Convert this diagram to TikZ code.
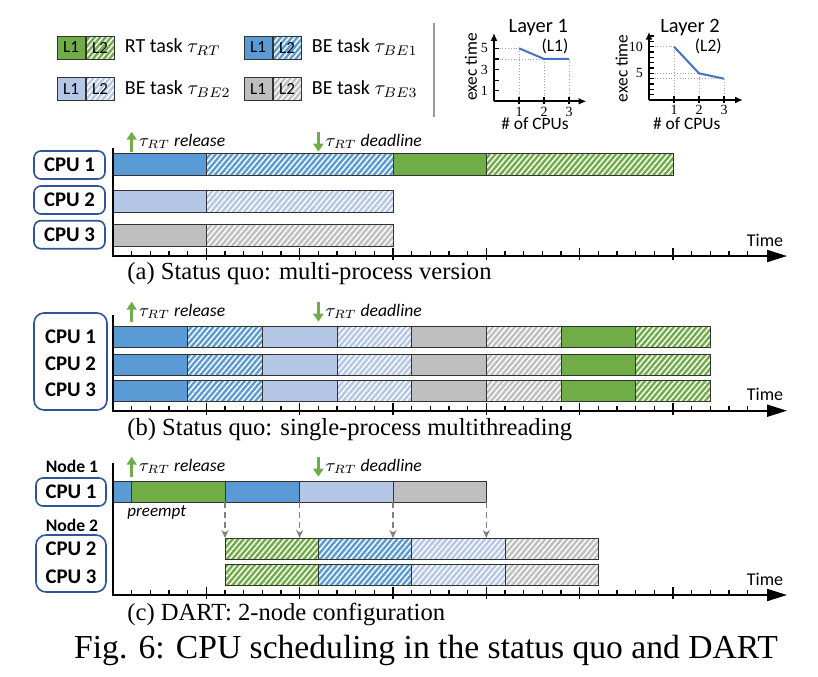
\documentclass[tikz,border=0pt]{standalone}
\usepackage{fontspec}
\setmainfont{Carlito}
\newfontfamily\capfont{Liberation Serif}
\usetikzlibrary{arrows.meta,patterns.meta,positioning}
\definecolor{rtgreen}{HTML}{70AD47}
\definecolor{beblue}{HTML}{5B9BD5}
\definecolor{belight}{HTML}{B4C7E7}
\definecolor{begray}{HTML}{BFBFBF}
\definecolor{boxblue}{HTML}{2F5597}
\definecolor{lineblue}{HTML}{4472C4}
\newcommand{\tzero}{113}
\newcommand{\tunit}{18.667}
\newcommand{\barh}{11}
\newcommand{\runslot}[4]{\path[#4] ({\tzero+\tunit*#2},{#1-\barh}) rectangle ({\tzero+\tunit*#3},{#1+\barh});}
\newcommand{\timeaxis}[3]{%
  \draw[axisline] (\tzero,#2) -- (\tzero,#1) -- (787,#1);
  \foreach \t in {1,...,34} \draw[tmark] ({\tzero+\tunit*\t},#1) -- ++(0,-5);
  \foreach \t in {5,10,...,30} \draw[tmark] ({\tzero+\tunit*\t},{#1-8}) -- ++(0,12);
  \node[timelab] (#3) at (765,{#1-16}) {Time};}
\newcommand{\rtmarks}[2]{%
  \coordinate (#2r0) at ({\tzero+\tunit},{#1+10});
  \coordinate (#2r1) at ({\tzero+\tunit},{#1-10});
  \coordinate (#2d0) at ({\tzero+\tunit*11},{#1-10});
  \coordinate (#2d1) at ({\tzero+\tunit*11},{#1+10});
  \draw[rtarrow] (#2r0) -- (#2r1);
  \draw[rtarrow] (#2d0) -- (#2d1);
  \node[marktext] (#2rel) at ({\tzero+\tunit+7},{#1+5}) {$\tau_{RT}$ \textit{release}};
  \node[marktext] (#2ddl) at ({\tzero+\tunit*11+7},{#1+5}) {$\tau_{RT}$ \textit{deadline}};}
\begin{document}
\begin{tikzpicture}[x=0.5pt, y=-0.5pt,
    run/.style={fill=#1, draw=black!80, line width=0.5pt},
    runh/.style={preaction={fill=#1}, pattern={Lines[angle=50,distance=2.1pt,line width=0.75pt]}, pattern color=white, draw=black!80, line width=0.5pt},
    cpubox/.style={draw=boxblue, line width=0.8pt, rounded corners=3.5pt, minimum width=35.5pt, minimum height=14pt, inner sep=0pt, font=\bfseries\fontsize{10.4}{12}\selectfont},
    cpuframe/.style={draw=boxblue, line width=0.8pt, rounded corners=5pt, inner sep=0pt},
    cpulab/.style={inner sep=0pt, font=\bfseries\fontsize{10.4}{12}\selectfont},
    legbox/.style={minimum width=14pt, minimum height=11.5pt, inner sep=0pt, font=\fontsize{8.5}{10}\selectfont},
    legtext/.style={anchor=west, inner sep=0pt, font=\fontsize{10}{12}\selectfont}]
  \tikzstyle{axisline} = [line width=1pt, -{Triangle[length=10pt,width=6pt]}]
  \tikzstyle{tmark} = [line width=0.6pt]
  \tikzstyle{timelab} = [inner sep=0pt, font=\fontsize{9}{11}\selectfont]
  \tikzstyle{rtarrow} = [rtgreen, line width=1.2pt, -{Triangle[length=4pt,width=5pt]}]
  \tikzstyle{marktext} = [anchor=base west, inner sep=0pt, font=\fontsize{8.8}{10}\selectfont]
  \tikzstyle{migrate} = [gray, dash pattern=on 3pt off 2pt, line width=0.8pt, -{Stealth[length=4pt,width=3.5pt]}]
  \tikzstyle{subcap} = [anchor=west, inner sep=0pt, font=\capfont\fontsize{12.3}{14}\selectfont]
  \tikzstyle{figcap} = [inner sep=0pt, font=\capfont\fontsize{16.8}{19}\selectfont]
  \tikzstyle{guide} = [densely dotted, gray!70, line width=0.4pt]
  \tikzstyle{gaxis} = [line width=0.9pt, -{Latex[length=4pt,width=3.5pt]}]
  \tikzstyle{gcurve} = [lineblue, line width=1pt]
  \tikzstyle{numlab} = [inner sep=1pt, font=\capfont\fontsize{7}{8}\selectfont]
  \tikzstyle{gtitle} = [inner sep=0pt, font=\fontsize{10.2}{12}\selectfont]
  \tikzstyle{gsmall} = [inner sep=0pt, font=\fontsize{8.7}{10}\selectfont]
  \useasboundingbox (0,0) rectangle (818,676);
  \foreach \n/\c/\x/\y/\s in {rt/rtgreen/71/47.5/{RT task $\tau_{RT}$}, be1/beblue/258/47.5/{BE task $\tau_{BE1}$},
      be2/belight/71/89/{BE task $\tau_{BE2}$}, be3/begray/258/89/{BE task $\tau_{BE3}$}} {
    \node[legbox, run=\c] (lg\n a) at (\x,\y) {L1};
    \node[legbox, runh=\c, right=0pt of lg\n a] (lg\n b) {L2};
    \node[legtext, right=5pt of lg\n b] (lg\n) {\s};
  }
  \draw[gray!80, line width=0.75pt] (434,23) -- (434,117);
  \begin{scope}[shift={(494,101.3)}, x=12.5pt, y=5.3pt]
    \draw[guide] (0,5) -| (1,0);
    \draw[guide] (0,4) -| (3,0);
    \draw[guide] (2,4) -- (2,0);
    \foreach \k in {1,...,5} \draw[tmark] (0,\k) -- (0.2,\k);
    \foreach \k in {1,2,3} \draw[tmark] (\k,-0.3) -- (\k,0.4);
    \draw[gaxis] (0,0) -- (3.7,0);
    \draw[gaxis] (0,0) -- (0,6.45);
    \draw[gcurve] (1,5) -- (2,4) -- (3,4);
    \foreach \k in {1,3,5} \node[numlab, anchor=east] (ya\k) at (-0.15,\k) {\k};
    \foreach \k in {1,2,3} \node[numlab, anchor=north] (xa\k) at (\k,-0.3) {\k};
  \end{scope}
  \begin{scope}[shift={(649,100)}, x=12.5pt, y=2.667pt]
    \draw[guide] (0,10) -| (1,0);
    \draw[guide] (0,5) -| (2,0);
    \draw[guide] (0,4) -| (3,0);
    \foreach \k in {1,...,12} \draw[tmark] (0,\k) -- (0.2,\k);
    \foreach \k in {1,2,3} \draw[tmark] (\k,-0.6) -- (\k,0.8);
    \draw[gaxis] (0,0) -- (3.76,0);
    \draw[gaxis] (0,0) -- (0,12.8);
    \draw[gcurve] (1,10) -- (2,5) -- (3,4);
    \foreach \k in {5,10} \node[numlab, anchor=east] (yb\k) at (-0.15,\k) {\k};
    \foreach \k in {1,2,3} \node[numlab, anchor=north] (xb\k) at (\k,-0.6) {\k};
  \end{scope}
  \node[gtitle] (lay1) at (538.3,27.3) {Layer 1};
  \node[gsmall] (tag1) at (555,46.7) {(L1)};
  \node[gsmall, rotate=90] (ylab1) at (471,66.7) {exec time};
  \node[gsmall] (xlab1) at (535,123.3) {\# of CPUs};
  \node[gtitle] (lay2) at (690,27.3) {Layer 2};
  \node[gsmall] (tag2) at (708.3,46.7) {(L2)};
  \node[gsmall, rotate=90] (ylab2) at (621.7,68.3) {exec time};
  \node[gsmall] (xlab2) at (686.7,123.3) {\# of CPUs};
  \node[cpubox] (acpu1) at (69.5,165) {CPU 1};
  \node[cpubox] (acpu2) at (69.5,200) {CPU 2};
  \node[cpubox] (acpu3) at (69.5,234.7) {CPU 3};
  \rtmarks{141.7}{a}
  \runslot{164}{0}{5}{run=beblue}
  \runslot{164}{5}{15}{runh=beblue}
  \runslot{164}{15}{20}{run=rtgreen}
  \runslot{164}{20}{30}{runh=rtgreen}
  \runslot{201}{0}{5}{run=belight}
  \runslot{201}{5}{15}{runh=belight}
  \runslot{235}{0}{5}{run=begray}
  \runslot{235}{5}{15}{runh=begray}
  \timeaxis{256}{148}{timea}
  \node[subcap] (capa) at (127,274) {(a) Status quo: multi-process version};
  \renewcommand{\barh}{10.5}
  \node[cpuframe, minimum width=36.5pt, minimum height=48.5pt] (bframe) at (70.5,361.5) {};
  \node[cpulab] (bcpu1) at (70.5,336.7) {CPU 1};
  \node[cpulab] (bcpu2) at (70.5,363.3) {CPU 2};
  \node[cpulab] (bcpu3) at (70.5,390) {CPU 3};
  \rtmarks{311.7}{b}
  \foreach \y in {337,364.5,391} {
    \runslot{\y}{0}{4}{run=beblue} \runslot{\y}{4}{8}{runh=beblue}
    \runslot{\y}{8}{12}{run=belight} \runslot{\y}{12}{16}{runh=belight}
    \runslot{\y}{16}{20}{run=begray} \runslot{\y}{20}{24}{runh=begray}
    \runslot{\y}{24}{28}{run=rtgreen} \runslot{\y}{28}{32}{runh=rtgreen}
  }
  \timeaxis{410.7}{315}{timeb}
  \node[subcap] (capb) at (127,430) {(b) Status quo: single-process multithreading};
  \node[cpulab, font=\bfseries\fontsize{8.8}{10}\selectfont] (node1) at (72,466.7) {Node 1};
  \node[cpubox, minimum width=35pt] (ccpu1) at (71,492) {CPU 1};
  \node[cpulab, font=\bfseries\fontsize{8.8}{10}\selectfont] (node2) at (72,525.7) {Node 2};
  \node[cpuframe, minimum width=35pt, minimum height=28.5pt] (cframe) at (71,563.5) {};
  \node[cpulab] (ccpu2) at (71,549) {CPU 2};
  \node[cpulab] (ccpu3) at (71,576.7) {CPU 3};
  \rtmarks{466.7}{c}
  \runslot{491.5}{0}{1}{run=beblue}
  \runslot{491.5}{1}{6}{run=rtgreen}
  \runslot{491.5}{6}{10}{run=beblue}
  \runslot{491.5}{10}{15}{run=belight}
  \runslot{491.5}{15}{20}{run=begray}
  \foreach \y in {548.5,574.5} {
    \runslot{\y}{6}{11}{runh=rtgreen} \runslot{\y}{11}{16}{runh=beblue}
    \runslot{\y}{16}{21}{runh=belight} \runslot{\y}{21}{26}{runh=begray}
  }
  \node[marktext, anchor=center, font=\itshape\fontsize{8.5}{10}\selectfont] (preempt) at (156.7,512) {preempt};
  \foreach \t [count=\i] in {6,10,15,20} {
    \coordinate (src\i) at ({\tzero+\tunit*\t},502);
    \coordinate (dst\i) at ({\tzero+\tunit*\t},538);
    \draw[migrate] (src\i) -- (dst\i);
  }
  \timeaxis{595}{463}{timec}
  \node[subcap] (capc) at (127,614) {(c) DART: 2-node configuration};
  \node[figcap] (fig) at (426,650) {Fig. 6: CPU scheduling in the status quo and DART};
\end{tikzpicture}
\end{document}
